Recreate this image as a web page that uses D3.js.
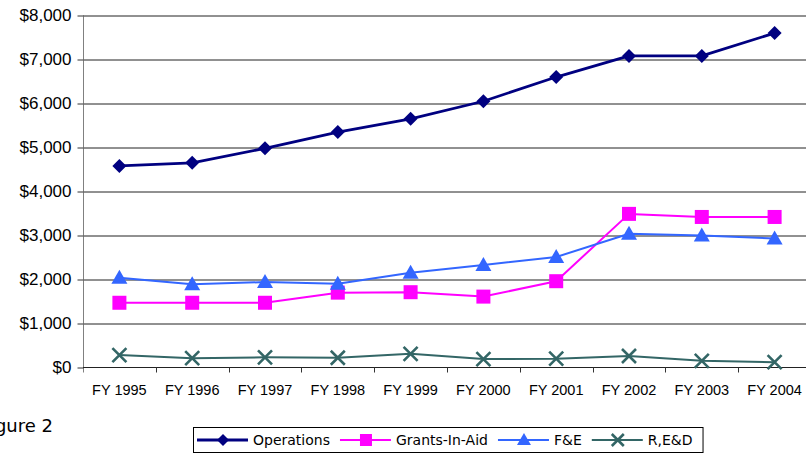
<!DOCTYPE html>
<html>
<head>
<meta charset="utf-8">
<script src="https://cdn.jsdelivr.net/npm/d3@7"></script>
<style>
  body { margin: 0; background: #fff; }
  svg { display: block; font-family: "DejaVu Sans", Verdana, sans-serif; }
</style>
</head>
<body>
<div id="chart"></div>
<script>
// chart data
const years = ['FY 1995', 'FY 1996', 'FY 1997', 'FY 1998', 'FY 1999', 'FY 2000', 'FY 2001', 'FY 2002', 'FY 2003', 'FY 2004'];
const operations = [4570, 4640, 4970, 5340, 5640, 6040, 6590, 7070, 7070, 7590];
const grantsInAid = [1460, 1460, 1460, 1690, 1700, 1600, 1950, 3480, 3410, 3410];
const facilities = [2030, 1880, 1930, 1890, 2140, 2320, 2500, 3030, 2990, 2920];
const research = [270, 200, 220, 210, 300, 180, 190, 250, 140, 110];
const yTicks = [0, 1000, 2000, 3000, 4000, 5000, 6000, 7000, 8000];

const series = [
  { name: 'Operations', values: operations, color: '#000080', marker: 'diamond', width: 2.8 },
  { name: 'Grants-In-Aid', values: grantsInAid, color: '#ff00ff', marker: 'square', width: 2 },
  { name: 'F&E', values: facilities, color: '#3366ff', marker: 'triangle', width: 2 },
  { name: 'R,E&D', values: research, color: '#336666', marker: 'cross', width: 2 }
];

const W = 806, H = 459;
const plot = { left: 83, right: 811, top: 15, bottom: 367 };

const svg = d3.select('#chart').append('svg')
  .attr('width', W)
  .attr('height', H);

svg.append('rect').attr('width', W).attr('height', H).attr('fill', '#fff');

const x = d3.scaleBand().domain(years).range([plot.left, plot.right]);
const y = d3.scaleLinear().domain([0, 8000]).range([plot.bottom, plot.top]);
const cx = d => x(d) + x.bandwidth() / 2;

// gridlines
svg.append('g')
  .attr('class', 'grid')
  .attr('transform', `translate(${plot.left},0.5)`)
  .call(d3.axisLeft(y).tickValues(yTicks.slice(1)).tickSize(-(plot.right - plot.left)).tickFormat(''))
  .call(g => g.select('.domain').remove())
  .call(g => g.selectAll('line').attr('stroke', '#222').attr('stroke-width', 1));

// y axis
svg.append('g')
  .attr('class', 'y-axis')
  .attr('transform', `translate(${plot.left + 0.5},0.5)`)
  .call(d3.axisLeft(y).tickValues(yTicks).tickSize(6).tickSizeOuter(0).tickPadding(6)
    .tickFormat(d => '$' + d3.format(',')(d)))
  .call(g => g.select('.domain').attr('stroke', '#808080').attr('d', `M0,${plot.top}V${plot.bottom + 5}`))
  .call(g => g.selectAll('.tick line').attr('stroke', '#333'))
  .call(g => g.selectAll('text').attr('font-size', 17).attr('fill', '#000'));

// x axis: labels at category centres, ticks between categories
const xAxis = svg.append('g')
  .attr('class', 'x-axis')
  .attr('transform', `translate(0,${plot.bottom + 0.5})`)
  .call(d3.axisBottom(x).tickSize(0).tickSizeOuter(0).tickPadding(17))
  .call(g => g.select('.domain').attr('stroke', '#222').attr('d', `M${plot.left},0H${plot.right}`))
  .call(g => g.selectAll('text').attr('font-size', 14.5).attr('fill', '#000'));

xAxis.selectAll('.sep')
  .data(years.slice(1))
  .join('line')
  .attr('class', 'sep')
  .attr('x1', d => Math.round(x(d)) + 0.5)
  .attr('x2', d => Math.round(x(d)) + 0.5)
  .attr('y1', 0)
  .attr('y2', 5)
  .attr('stroke', '#333');

// marker shapes
function drawMarker(sel, type, color, size) {
  const s = size;
  if (type === 'diamond') {
    sel.append('path').attr('d', `M0,${-s}L${s},0L0,${s}L${-s},0Z`).attr('fill', color);
  } else if (type === 'square') {
    sel.append('rect').attr('x', -s).attr('y', -s).attr('width', 2 * s).attr('height', 2 * s).attr('fill', color);
  } else if (type === 'triangle') {
    sel.append('path').attr('d', `M0,${-s - 1}L${s + 1},${s - 1}L${-s - 1},${s - 1}Z`).attr('fill', color);
  } else {
    sel.append('path').attr('d', `M${-s},${-s}L${s},${s}M${-s},${s}L${s},${-s}`)
      .attr('stroke', color).attr('stroke-width', 2.6).attr('fill', 'none');
  }
}

const line = d3.line()
  .x((d, i) => cx(years[i]))
  .y(d => y(d));

const lines = svg.append('g').attr('class', 'lines');

series.forEach(s => {
  lines.append('path')
    .attr('fill', 'none')
    .attr('stroke', s.color)
    .attr('stroke-width', s.width)
    .attr('stroke-linejoin', 'round')
    .attr('d', line(s.values));

  lines.selectAll(null)
    .data(s.values)
    .join('g')
    .attr('transform', (d, i) => `translate(${cx(years[i])},${y(d)})`)
    .each(function() { drawMarker(d3.select(this), s.marker, s.color, 7); });
});

// caption (cut by the left edge, as in the original)
svg.append('text')
  .attr('x', 53)
  .attr('y', 432)
  .attr('text-anchor', 'end')
  .attr('font-size', 18)
  .attr('fill', '#000')
  .text('Figure 2');

// legend
const legend = svg.append('g').attr('class', 'legend');
const legendBox = legend.append('rect')
  .attr('y', 427.5)
  .attr('height', 25)
  .attr('fill', '#fff')
  .attr('stroke', '#000')
  .attr('stroke-width', 1);

let lx = 197;
const ly = 440;
series.forEach(s => {
  const item = legend.append('g');
  item.append('line')
    .attr('x1', lx).attr('x2', lx + 51)
    .attr('y1', ly).attr('y2', ly)
    .attr('stroke', s.color)
    .attr('stroke-width', s.width);
  const m = item.append('g').attr('transform', `translate(${lx + 26},${ly})`);
  drawMarker(m, s.marker, s.color, 6);
  const t = item.append('text')
    .attr('x', lx + 56)
    .attr('y', ly)
    .attr('dy', '0.35em')
    .attr('font-size', 14)
    .attr('fill', '#000')
    .text(s.name);
  lx += 56 + t.node().getComputedTextLength() + 10;
});
legendBox.attr('x', 193.5).attr('width', lx - 193);
</script>
</body>
</html>
